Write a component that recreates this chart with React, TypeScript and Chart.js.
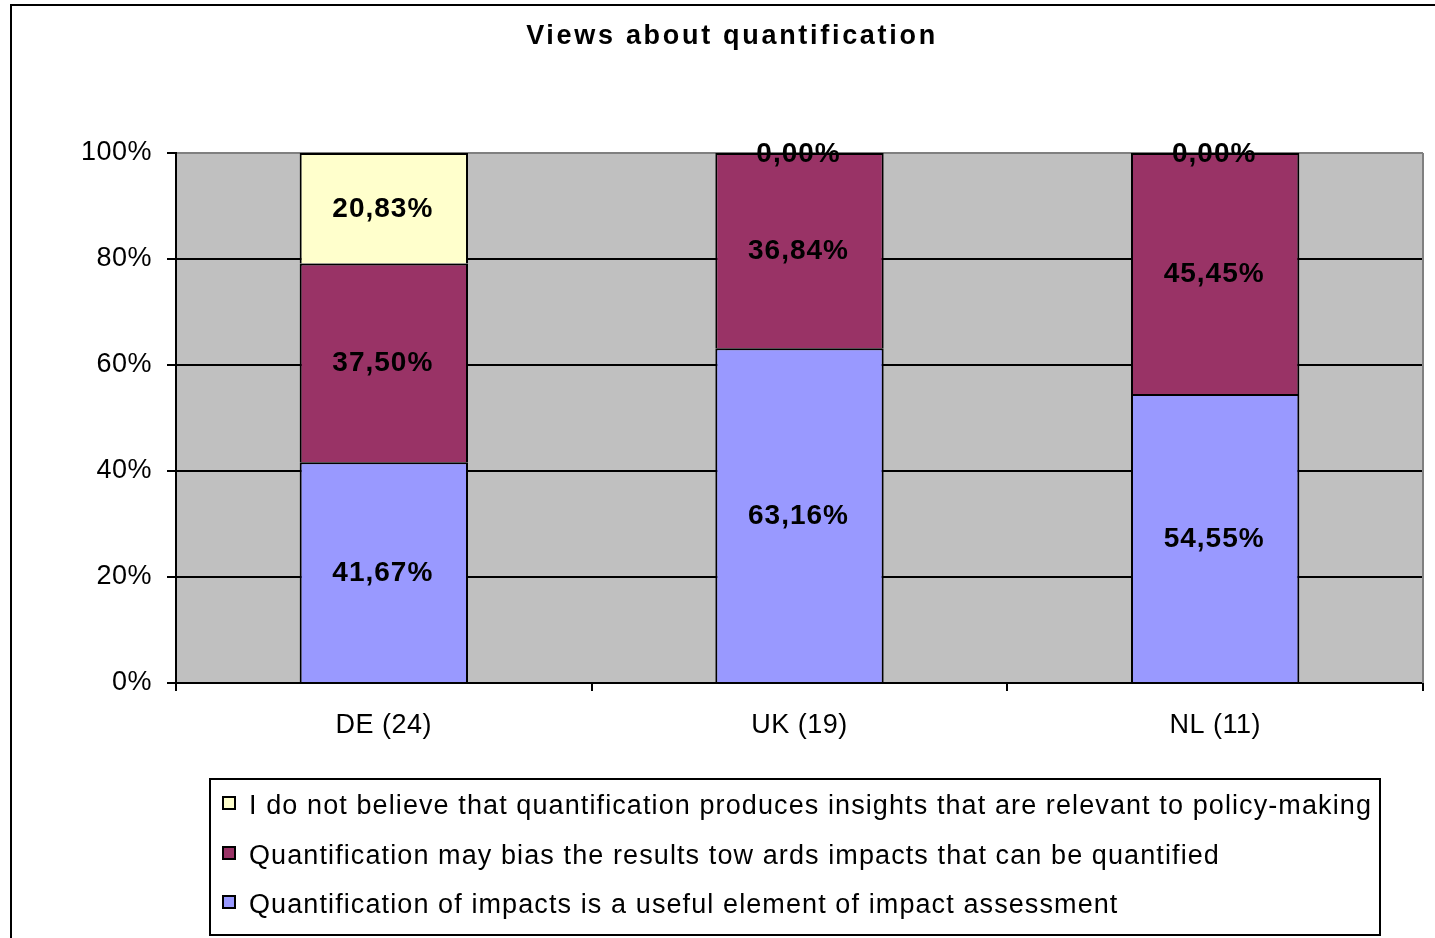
import React, { useEffect, useRef } from "react";
import { Chart, registerables } from "chart.js";

Chart.register(...registerables);

const categories = ["DE (24)", "UK (19)", "NL (11)"];
const usefulElement = [41.67, 63.16, 54.55];
const mayBias = [37.5, 36.84, 45.45];
const notRelevant = [20.83, 0, 0];
const yTicks = [0, 20, 40, 60, 80, 100];

const seriesLabels = [
  "Quantification of impacts is a useful element of impact assessment",
  "Quantification may bias the results tow ards impacts that can be quantified",
  "I do not believe that quantification produces insights that are relevant to policy-making",
];
const seriesColors = ["#9999FF", "#993366", "#FFFFCC"];

const FONT = "'Liberation Sans', Arial, sans-serif";

const fmt = (v: number) => v.toFixed(2).replace(".", ",") + "%";

const framePlugin = {
  id: "frame",
  beforeUpdate(chart: any) {
    chart.ctx.letterSpacing = "0.5px";
  },
  beforeDraw(chart: any) {
    const { ctx, chartArea: a } = chart;
    ctx.letterSpacing = "0.5px";
    ctx.save();
    ctx.fillStyle = "#FFFFFF";
    ctx.fillRect(0, 0, chart.width, chart.height);
    ctx.fillStyle = "#C0C0C0";
    ctx.fillRect(a.left, a.top, a.right - a.left, a.bottom - a.top);
    // outer frame
    ctx.strokeStyle = "#000";
    ctx.lineWidth = 2;
    ctx.strokeRect(11, 5, chart.width + 20, chart.height + 20);
    // title
    ctx.fillStyle = "#000";
    ctx.font = `bold 27px ${FONT}`;
    ctx.letterSpacing = "2.7px";
    ctx.textAlign = "center";
    ctx.textBaseline = "alphabetic";
    ctx.fillText("Views about quantification", 732, 44);
    ctx.restore();
  },
  afterDraw(chart: any) {
    const { ctx, chartArea: a } = chart;
    ctx.save();
    // right edge of plot area
    ctx.strokeStyle = "#808080";
    ctx.lineWidth = 2;
    ctx.beginPath();
    ctx.moveTo(a.right, a.top);
    ctx.lineTo(a.right, a.bottom);
    ctx.stroke();

    // legend box
    ctx.strokeStyle = "#000";
    ctx.strokeRect(210, 779, 1170, 156);
    const ds = chart.data.datasets;
    const baselines = [814, 864, 913];
    ctx.font = `27px ${FONT}`;
    ctx.letterSpacing = "1.1px";
    ctx.textAlign = "left";
    ctx.textBaseline = "alphabetic";
    for (let i = 0; i < ds.length; i++) {
      const d = ds[ds.length - 1 - i];
      const y = baselines[i];
      ctx.fillStyle = d.backgroundColor;
      ctx.fillRect(223, y - 17, 12, 12);
      ctx.strokeStyle = "#000";
      ctx.lineWidth = 2;
      ctx.strokeRect(223, y - 17, 12, 12);
      ctx.fillStyle = "#000";
      ctx.fillText(d.label, 249, y);
    }
    ctx.restore();
  },
  afterDatasetsDraw(chart: any) {
    const { ctx } = chart;
    ctx.save();
    ctx.font = `bold 28px ${FONT}`;
    ctx.letterSpacing = "1px";
    ctx.fillStyle = "#000";
    ctx.textAlign = "center";
    ctx.textBaseline = "middle";
    chart.data.datasets.forEach((d: any, di: number) => {
      const meta = chart.getDatasetMeta(di);
      meta.data.forEach((bar: any, i: number) => {
        const cy = (bar.y + bar.base) / 2;
        ctx.fillText(fmt(d.data[i]), bar.x - 1, cy + 1);
      });
    });
    ctx.restore();
  },
};

export default function App() {
  const ref = useRef<HTMLCanvasElement>(null);

  useEffect(() => {
    if (!ref.current) return;
    const series = [usefulElement, mayBias, notRelevant];
    const chart = new Chart(ref.current, {
      type: "bar",
      data: {
        labels: categories,
        datasets: series.map((data, i) => ({
          label: seriesLabels[i],
          data,
          backgroundColor: seriesColors[i],
          borderColor: "#000",
          borderWidth: 2,
          borderSkipped: "bottom",
          barPercentage: 1,
          categoryPercentage: 0.405,
        })),
      },
      plugins: [framePlugin],
      options: {
        responsive: false,
        animation: false,
        events: [],
        layout: { padding: { left: 0, top: 153, right: 12, bottom: 0 } },
        plugins: {
          legend: { display: false },
          title: { display: false },
          tooltip: { enabled: false },
        },
        scales: {
          x: {
            stacked: true,
            afterFit: (s: any) => {
              s.height = 255;
            },
            grid: {
              drawOnChartArea: false,
              drawTicks: true,
              tickLength: 8,
              color: "#000",
              lineWidth: 2,
            },
            border: { display: true, color: "#000", width: 2 },
            ticks: {
              color: "#000",
              padding: 18,
              font: { family: FONT, size: 27 },
            },
          },
          y: {
            stacked: true,
            min: 0,
            max: 100,
            afterFit: (s: any) => {
              s.width = 176;
            },
            afterBuildTicks: (s: any) => {
              s.ticks = yTicks.map((value) => ({ value }));
            },
            grid: {
              color: (c: any) => (c.tick && c.tick.value === 100 ? "#808080" : "#000"),
              tickColor: "#000",
              lineWidth: 2,
              tickLength: 9,
            },
            border: { display: true, color: "#000", width: 2 },
            ticks: {
              color: "#000",
              padding: 15,
              font: { family: FONT, size: 27 },
              callback: (v: any) => v + "%",
            },
          },
        },
      },
    });
    return () => chart.destroy();
  }, []);

  return (
    <canvas
      ref={ref}
      width={1435}
      height={938}
      style={{ position: "absolute", left: 0, top: 0, width: 1435, height: 938 }}
    />
  );
}
